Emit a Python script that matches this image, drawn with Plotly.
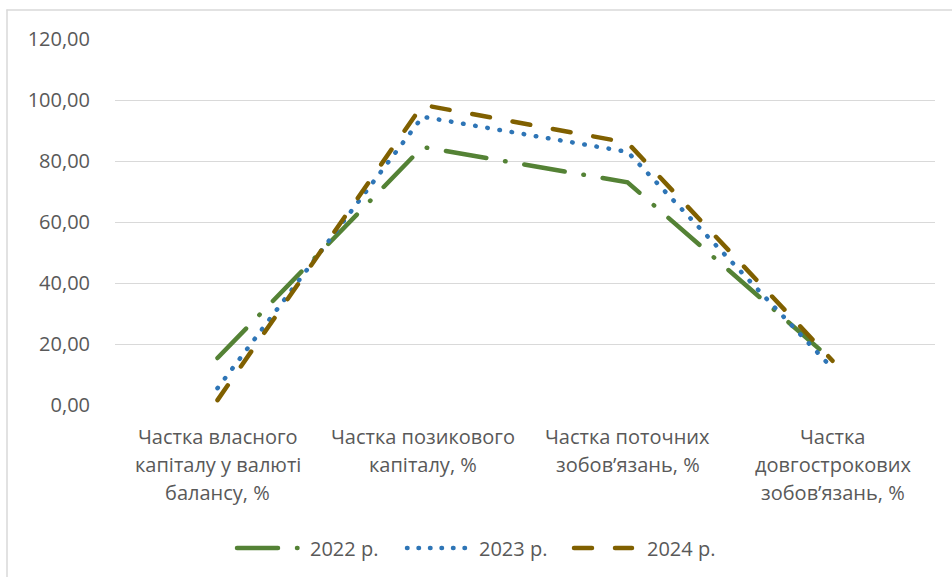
import plotly.graph_objects as go

categories = [
    "Частка власного капіталу у валюті балансу, %",
    "Частка позикового капіталу, %",
    "Частка поточних зобов’язань, %",
    "Частка довгострокових зобов’язань, %",
]
category_lines = [
    ["Частка власного", "капіталу у валюті", "балансу, %"],
    ["Частка позикового", "капіталу, %"],
    ["Частка поточних", "зобов’язань, %"],
    ["Частка", "довгострокових", "зобов’язань, %"],
]
series_names = ["2022 р.", "2023 р.", "2024 р."]
values_2022 = [15.4, 84.6, 73.0, 14.6]
values_2023 = [5.5, 94.5, 83.0, 12.0]
values_2024 = [1.6, 98.4, 86.0, 14.5]
y_ticks = [0, 20, 40, 60, 80, 100, 120]

colors = ["#548235", "#2E75B6", "#806000"]
dashes = ["41px,19px,0.5px,19px", "0.5px,11.8px", "18px,23px"]
legend_dashes = ["41px,19px,0.5px,19px", "0.5px,11px", "18px,23px"]

W, H = 952, 577
L, R, T, B = 115, 17, 39, 172
PW = W - L - R
PH = H - T - B

def px(xp):
    return (xp - L) / PW

def py(yp):
    return (H - B - yp) / PH

FONT = "Open Sans"
TXT = "#595959"
GRID = "#D9D9D9"
FS = 20

fig = go.Figure()
for name, vals, c, d in zip(series_names, [values_2022, values_2023, values_2024], colors, dashes):
    fig.add_trace(go.Scatter(
        x=categories, y=vals, mode="lines", name=name,
        line=dict(color=c, width=4.5, dash=d),
        showlegend=False,
    ))

annotations = []
line_y = [436, 464, 492]
for cat, lines in zip(categories, category_lines):
    for i, t in enumerate(lines):
        annotations.append(dict(
            x=cat, xref="x", y=py(line_y[i]), yref="paper",
            text=t, showarrow=False, xanchor="center", yanchor="middle",
            font=dict(family=FONT, size=FS, color=TXT),
        ))

shapes = []
# chart frame (left and top edges)
shapes.append(dict(type="line", xref="paper", yref="paper",
                   x0=px(7), x1=px(7), y0=py(10), y1=py(590),
                   line=dict(color=GRID, width=1.5)))
shapes.append(dict(type="line", xref="paper", yref="paper",
                   x0=px(7), x1=px(960), y0=py(10), y1=py(10),
                   line=dict(color=GRID, width=1.5)))

# manual legend
leg_y = 548
leg_items = [
    (237, 298, 308),
    (407, 465, 477),
    (574, 632, 645),
]
for (x0, x1, tx), name, c, d in zip(leg_items, series_names, colors, legend_dashes):
    shapes.append(dict(type="line", xref="paper", yref="paper",
                       x0=px(x0), x1=px(x1), y0=py(leg_y), y1=py(leg_y),
                       line=dict(color=c, width=4.5, dash=d)))
    annotations.append(dict(
        x=px(tx), xref="paper", y=py(leg_y), yref="paper",
        text=name, showarrow=False, xanchor="left", yanchor="middle",
        font=dict(family=FONT, size=FS, color=TXT),
    ))

fig.update_layout(
    width=W, height=H,
    margin=dict(l=L, r=R, t=T, b=B),
    paper_bgcolor="white", plot_bgcolor="white",
    separators=", ",
    showlegend=False,
    annotations=annotations,
    shapes=shapes,
    font=dict(family=FONT, size=FS, color=TXT),
)
fig.update_xaxes(
    type="category", range=[-0.5, 3.5], showticklabels=False,
    showgrid=False, zeroline=False, showline=False,
)
fig.update_yaxes(
    range=[0, 120], tickvals=y_ticks, tickformat=".2f",
    showgrid=True, gridcolor=GRID, gridwidth=1.3,
    zeroline=False, showline=False,
    ticklabelstandoff=24,
    tickfont=dict(family=FONT, size=FS, color=TXT),
)

js = """
document.body.style.margin = '0';
document.body.style.padding = '0';
function fixCaps(){
  document.querySelectorAll('.scatterlayer path.js-line, .shapelayer path').forEach(function(p){
    p.style.strokeLinecap = 'round';
  });
}
fixCaps();
var gd = document.getElementById('{plot_id}');
if (gd && gd.on) { gd.on('plotly_afterplot', fixCaps); }
"""

fig.write_html("out.html", post_script=js, config={"displayModeBar": False})
